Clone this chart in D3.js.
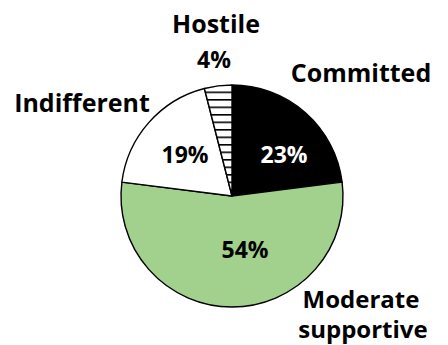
<!DOCTYPE html>
<html>
<head>
<meta charset="utf-8">
<script src="https://cdn.jsdelivr.net/npm/d3@7"></script>
<style>
  html, body { margin: 0; padding: 0; background: #fff; }
  svg { display: block; }
  text { font-family: "Open Sans", Lato, sans-serif; font-weight: 700; fill: #000; }
</style>
</head>
<body>
<svg id="chart" width="448" height="345"></svg>
<script>
// Audience attitude breakdown (percent)
const categories = ["Committed", "Moderate supportive", "Indifferent", "Hostile"];
const shares = [23, 54, 19, 4];
const valueLabels = ["23%", "54%", "19%", "4%"];

const svg = d3.select("#chart");
const cx = 232, cy = 196, radius = 111;

// horizontal line hatching for the hostile slice
const defs = svg.append("defs");
const pat = defs.append("pattern")
  .attr("id", "hatch")
  .attr("patternUnits", "userSpaceOnUse")
  .attr("width", 8).attr("height", 7.5)
  .attr("y", 0.5);
pat.append("rect").attr("width", 8).attr("height", 7.5).attr("fill", "#fff");
pat.append("rect").attr("y", 0).attr("width", 8).attr("height", 1.6).attr("fill", "#000");

const fills = d3.scaleOrdinal()
  .domain(categories)
  .range(["#000000", "#a2d08d", "#ffffff", "url(#hatch)"]);

const pie = d3.pie().sort(null).value(d => d.v);
const arc = d3.arc().innerRadius(0).outerRadius(radius);

const data = categories.map((c, i) => ({ c, v: shares[i], label: valueLabels[i] }));
const arcs = pie(data);

const g = svg.append("g").attr("transform", `translate(${cx},${cy})`);

g.selectAll("path.slice")
  .data(arcs)
  .join("path")
  .attr("class", "slice")
  .attr("d", arc)
  .attr("fill", d => fills(d.data.c))
  .attr("stroke", "#000")
  .attr("stroke-width", 1.4)
  .attr("stroke-linejoin", "round");

// value labels inside the three large slices
const innerPos = {
  "Committed": [52, -33],
  "Moderate supportive": [13, 62],
  "Indifferent": [-47, -33]
};
const innerColor = { "Committed": "#fff", "Moderate supportive": "#000", "Indifferent": "#000" };

g.selectAll("text.value")
  .data(arcs.filter(d => innerPos[d.data.c]))
  .join("text")
  .attr("class", "value")
  .attr("x", d => innerPos[d.data.c][0])
  .attr("y", d => innerPos[d.data.c][1])
  .attr("text-anchor", "middle")
  .attr("font-size", 23)
  .style("fill", d => innerColor[d.data.c])
  .text(d => d.data.label);

// category labels around the pie
const outer = svg.append("g");

function addLabel(text, x, y, size) {
  outer.append("text")
    .attr("x", x).attr("y", y)
    .attr("text-anchor", "middle")
    .attr("font-size", size)
    .text(text);
}

addLabel(categories[3], 216, 33, 25);
addLabel(valueLabels[3], 214, 68, 23);
addLabel(categories[0], 361, 82, 25);
addLabel(categories[2], 82, 112, 25);
addLabel("Moderate", 361, 308, 24);
addLabel("supportive", 363, 338, 24);
</script>
</body>
</html>
